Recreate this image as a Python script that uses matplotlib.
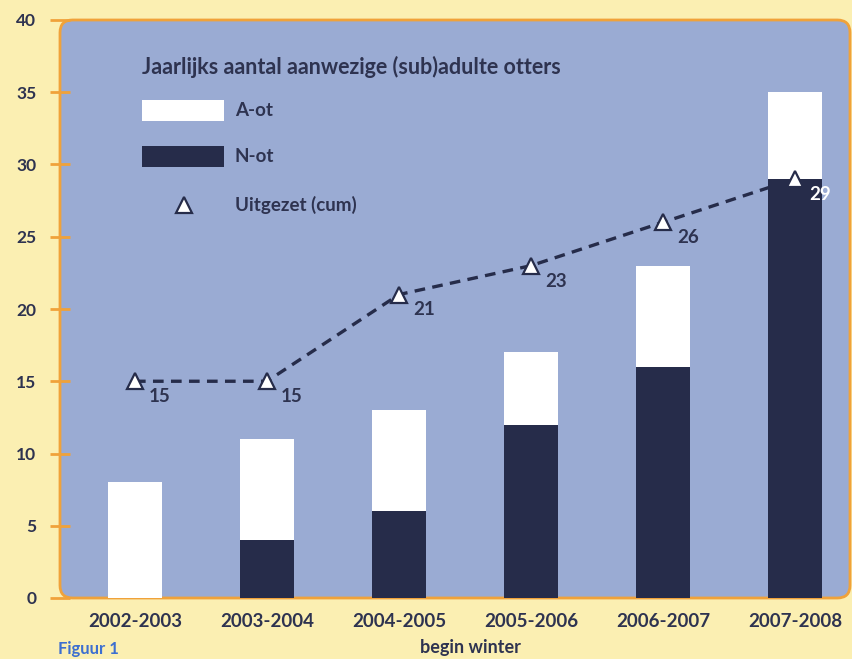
import numpy as np
import matplotlib
matplotlib.use("Agg")
import matplotlib.pyplot as plt
from matplotlib.patches import FancyBboxPatch, Rectangle
from matplotlib.lines import Line2D

# data
seizoenen = ["2002-2003", "2003-2004", "2004-2005", "2005-2006", "2006-2007", "2007-2008"]
n_ot = [0, 4, 6, 12, 16, 29]
a_ot = [8, 7, 7, 5, 7, 6]
uitgezet = [15, 15, 21, 23, 26, 29]

navy = "#262c4a"
bg_panel = "#9aabd3"
bg_outer = "#fbefb2"
oranje = "#f0a23a"
tekst = "#2e3350"

plt.rcParams['font.family'] = ['Lato', 'DejaVu Sans']
plt.rcParams['font.weight'] = 'bold'
plt.rcParams['axes.labelweight'] = 'bold'

fig = plt.figure(figsize=(8.52, 6.59), dpi=100, facecolor=bg_outer)
W, H = 852, 659
ax = fig.add_axes([60 / W, 1 - 598 / H, 790 / W, 578 / H])
ax.patch.set_visible(False)

# panel with rounded corners
asp = 790 / 578
panel = FancyBboxPatch((0, 0), 1, 1, boxstyle="round,pad=0,rounding_size=0.016",
                       mutation_aspect=asp, transform=ax.transAxes,
                       facecolor=bg_panel, edgecolor=oranje, linewidth=2,
                       zorder=0, clip_on=False)
ax.add_patch(panel)

x = np.arange(len(seizoenen))
bw = 0.41
ax.bar(x, n_ot, bw, color=navy, zorder=2)
ax.bar(x, a_ot, bw, bottom=n_ot, color="white", zorder=2)

ax.plot(x, uitgezet, color=navy, linestyle=(0, (3.2, 2.2)), linewidth=2.4, zorder=3)
ax.plot(x, uitgezet, linestyle="none", marker="^", markersize=11,
        markerfacecolor="white", markeredgecolor=navy, markeredgewidth=1.6, zorder=4)
for i, v in enumerate(uitgezet):
    kleur = "white" if n_ot[i] >= v else tekst
    ax.annotate(str(v), (x[i], v), xytext=(10, -5), textcoords="offset points",
                ha="left", va="top", fontsize=13.5, fontweight="bold", color=kleur, zorder=5)

ax.set_xlim(-0.568, 5.417)
ax.set_ylim(0, 40)
ax.set_yticks(range(0, 41, 5))
ax.set_xticks(x)
ax.set_xticklabels(seizoenen)
for s in ax.spines.values():
    s.set_visible(False)
ax.tick_params(axis="y", direction="inout", length=14, width=2, color=oranje,
               labelsize=12.5, labelcolor=tekst, pad=10)
ax.tick_params(axis="x", length=0, labelsize=13.5, labelcolor=tekst, pad=11)
for lab in ax.get_xticklabels() + ax.get_yticklabels():
    lab.set_fontweight("bold")
ax.set_xlabel("begin winter", fontsize=13, fontweight="bold", color=tekst)
ax.xaxis.set_label_coords((470 - 60) / 790, -0.071)

# legend (manual)
def fx(px):
    return (px - 60) / 790

def fy(py):
    return (598 - py) / 578

ax.text(fx(142), fy(67), "Jaarlijks aantal aanwezige (sub)adulte otters",
        transform=ax.transAxes, fontsize=15.5, fontweight="bold", color=tekst,
        va="center", ha="left")
ax.add_patch(Rectangle((fx(142), fy(121)), 82 / 790, 21 / 578, transform=ax.transAxes,
                       facecolor="white", edgecolor="none", zorder=5))
ax.add_patch(Rectangle((fx(142), fy(167)), 82 / 790, 21 / 578, transform=ax.transAxes,
                       facecolor=navy, edgecolor="none", zorder=5))
ax.add_line(Line2D([fx(184)], [fy(205)], transform=ax.transAxes, marker="^",
                   markersize=11, markerfacecolor="white", markeredgecolor=navy,
                   markeredgewidth=1.6, linestyle="none", zorder=5))
for py, lab in [(110, "A-ot"), (156, "N-ot"), (205, "Uitgezet (cum)")]:
    ax.text(fx(235), fy(py), lab, transform=ax.transAxes, fontsize=13.5,
            fontweight="bold", color=tekst, va="center", ha="left")

fig.text(58 / W, 1 - 657 / H, "Figuur 1", fontsize=12, color="#3d6fd0",
         ha="left", va="bottom")

fig.savefig("out.png", dpi=100, facecolor=bg_outer)
